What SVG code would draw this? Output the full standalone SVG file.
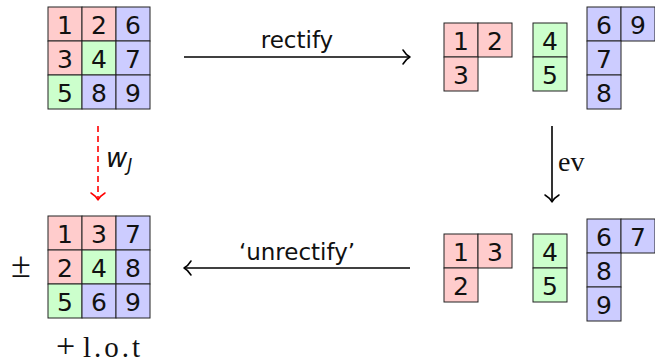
<svg xmlns="http://www.w3.org/2000/svg" width="655" height="364" viewBox="0 0 655 364">
  <defs>
    <style>
      .r { fill: #ffcccc; stroke: #222; stroke-width: 1; }
      .g { fill: #ccffcc; stroke: #222; stroke-width: 1; }
      .b { fill: #ccccff; stroke: #222; stroke-width: 1; }
      .n { font-family: "DejaVu Sans", "Liberation Sans", sans-serif; font-size: 25px; fill: #111; text-anchor: middle; }
      .lbl { font-family: "DejaVu Sans", "Liberation Sans", sans-serif; font-size: 23px; fill: #111; }
      .rm { font-family: "Liberation Serif", "DejaVu Serif", serif; font-size: 28px; fill: #111; }
      .arr { stroke: #000; stroke-width: 1.6; fill: none; }
      .tip { stroke: #000; stroke-width: 1.5; fill: none; stroke-linecap: round; stroke-linejoin: round; }
      .red { stroke: #ff0000; stroke-width: 1.6; fill: none; }
      .tip.red-tip { stroke: #ff0000; }
    </style>
  </defs>

  <!-- top-left tableau -->
  <g id="tableau-top">
    <rect class="r" x="48" y="7" width="34" height="34"/><text class="n" x="65" y="34">1</text>
    <rect class="r" x="82" y="7" width="34" height="34"/><text class="n" x="99" y="34">2</text>
    <rect class="b" x="116" y="7" width="34" height="34"/><text class="n" x="133" y="34">6</text>
    <rect class="r" x="48" y="41" width="34" height="34"/><text class="n" x="65" y="68">3</text>
    <rect class="g" x="82" y="41" width="34" height="34"/><text class="n" x="99" y="68">4</text>
    <rect class="b" x="116" y="41" width="34" height="34"/><text class="n" x="133" y="68">7</text>
    <rect class="g" x="48" y="75" width="34" height="34"/><text class="n" x="65" y="102">5</text>
    <rect class="b" x="82" y="75" width="34" height="34"/><text class="n" x="99" y="102">8</text>
    <rect class="b" x="116" y="75" width="34" height="34"/><text class="n" x="133" y="102">9</text>
  </g>

  <!-- top-right rectified pieces -->
  <g id="pieces-top">
    <rect class="r" x="444" y="23" width="34" height="34"/><text class="n" x="461" y="50">1</text>
    <rect class="r" x="478" y="23" width="34" height="34"/><text class="n" x="495" y="50">2</text>
    <rect class="r" x="444" y="57" width="34" height="34"/><text class="n" x="461" y="84">3</text>
    <rect class="g" x="533" y="23" width="34" height="34"/><text class="n" x="550" y="50">4</text>
    <rect class="g" x="533" y="57" width="34" height="34"/><text class="n" x="550" y="84">5</text>
    <rect class="b" x="587" y="7" width="34" height="34"/><text class="n" x="604" y="34">6</text>
    <rect class="b" x="621" y="7" width="34" height="34"/><text class="n" x="638" y="34">9</text>
    <rect class="b" x="587" y="41" width="34" height="34"/><text class="n" x="604" y="68">7</text>
    <rect class="b" x="587" y="75" width="34" height="34"/><text class="n" x="604" y="102">8</text>
  </g>

  <!-- bottom-right pieces after evacuation -->
  <g id="pieces-bottom">
    <rect class="r" x="444" y="234" width="34" height="34"/><text class="n" x="461" y="261">1</text>
    <rect class="r" x="478" y="234" width="34" height="34"/><text class="n" x="495" y="261">3</text>
    <rect class="r" x="444" y="268" width="34" height="34"/><text class="n" x="461" y="295">2</text>
    <rect class="g" x="533" y="234" width="34" height="34"/><text class="n" x="550" y="261">4</text>
    <rect class="g" x="533" y="268" width="34" height="34"/><text class="n" x="550" y="295">5</text>
    <rect class="b" x="587" y="219" width="34" height="34"/><text class="n" x="604" y="246">6</text>
    <rect class="b" x="621" y="219" width="34" height="34"/><text class="n" x="638" y="246">7</text>
    <rect class="b" x="587" y="253" width="34" height="34"/><text class="n" x="604" y="280">8</text>
    <rect class="b" x="587" y="287" width="34" height="34"/><text class="n" x="604" y="314">9</text>
  </g>

  <!-- bottom-left tableau -->
  <g id="tableau-bottom">
    <rect class="r" x="48" y="216" width="34" height="34"/><text class="n" x="65" y="243">1</text>
    <rect class="r" x="82" y="216" width="34" height="34"/><text class="n" x="99" y="243">3</text>
    <rect class="b" x="116" y="216" width="34" height="34"/><text class="n" x="133" y="243">7</text>
    <rect class="r" x="48" y="250" width="34" height="34"/><text class="n" x="65" y="277">2</text>
    <rect class="g" x="82" y="250" width="34" height="34"/><text class="n" x="99" y="277">4</text>
    <rect class="b" x="116" y="250" width="34" height="34"/><text class="n" x="133" y="277">8</text>
    <rect class="g" x="48" y="284" width="34" height="34"/><text class="n" x="65" y="311">5</text>
    <rect class="b" x="82" y="284" width="34" height="34"/><text class="n" x="99" y="311">6</text>
    <rect class="b" x="116" y="284" width="34" height="34"/><text class="n" x="133" y="311">9</text>
    <text class="rm" x="11" y="277" style="font-size:36px">±</text>
    <text class="rm" x="56" y="357" style="font-size:34px">+</text>
    <text class="rm" x="83" y="357" style="font-size:29px" textLength="57" lengthAdjust="spacing">l.o.t</text>
  </g>

  <!-- connectors -->
  <g id="connectors">
    <line class="arr" x1="184" y1="57" x2="409" y2="57"/>
    <path class="tip" d="M403,50 Q406,55 410,57 Q406,59 403,64"/>
    <text class="lbl" x="297" y="48" text-anchor="middle">rectify</text>

    <line class="arr" x1="552" y1="126" x2="552" y2="201"/>
    <path class="tip" d="M545,195 Q550,198 552,202 Q554,198 559,195"/>
    <text class="rm" x="558" y="171">ev</text>

    <line class="arr" x1="410" y1="268" x2="185" y2="268"/>
    <path class="tip" d="M191,261 Q188,266 184,268 Q188,270 191,275"/>
    <text class="lbl" x="297" y="260" text-anchor="middle">‘unrectify’</text>

    <line class="red" x1="98" y1="126" x2="98" y2="199" stroke-dasharray="6,4"/>
    <path class="tip red-tip" d="M91,193 Q96,196 98,200 Q100,196 105,193"/>
    <text x="106" y="167" font-family="DejaVu Sans, Liberation Sans, sans-serif" font-style="italic" font-size="26px" fill="#111">w<tspan font-size="17px" dy="4">J</tspan></text>
  </g>
</svg>
